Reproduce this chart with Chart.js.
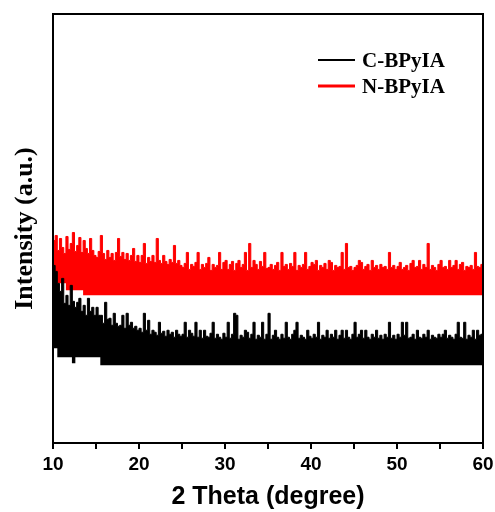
<!DOCTYPE html>
<html>
<head>
<meta charset="utf-8">
<script src="https://cdn.jsdelivr.net/npm/chart.js@4.4.1/dist/chart.umd.min.js"></script>
<style>
  html, body { margin: 0; padding: 0; background: #fff; }
  #xrd { display: block; }
</style>
</head>
<body>
<canvas id="xrd" width="495" height="512"></canvas>
<script>
// 2 theta grid, 0.25 degree steps from 10 to 60
const twoTheta = [];
for (let i = 0; i <= 200; i++) twoTheta.push(10 + i * 0.25);

// upper edge of the noisy C-BPyIA trace (a.u.)
const cUpper = [
  178, 172, 160, 152, 165, 140, 148, 138, 158, 142, 136, 141, 145, 132, 138, 128, 145, 132, 136, 128,
  136, 128, 128, 120, 141, 124, 125, 118, 130, 120, 117, 118, 128, 115, 130, 118, 121, 115, 117, 113,
  115, 111, 130, 113, 123, 109, 113, 111, 108, 121, 110, 112, 107, 113, 109, 111, 106, 113, 109, 107,
  109, 121, 106, 113, 110, 107, 121, 106, 113, 105, 113, 107, 106, 110, 121, 105, 109, 106, 104, 110,
  106, 121, 105, 109, 130, 128, 104, 108, 106, 113, 111, 105, 109, 121, 104, 108, 106, 121, 104, 109,
  130, 104, 108, 113, 106, 104, 109, 105, 121, 106, 104, 109, 113, 121, 105, 108, 106, 104, 113, 107,
  105, 109, 106, 121, 104, 108, 106, 113, 105, 109, 106, 113, 104, 108, 113, 105, 113, 106, 104, 109,
  121, 106, 109, 113, 105, 113, 106, 104, 109, 106, 113, 105, 108, 104, 109, 106, 121, 105, 108, 104,
  109, 106, 121, 108, 121, 105, 106, 109, 104, 113, 106, 105, 109, 106, 113, 104, 108, 106, 105, 109,
  106, 109, 113, 105, 108, 106, 104, 109, 121, 106, 105, 121, 104, 108, 106, 113, 104, 113, 108, 109,
  130
];
// lower edge of the C-BPyIA band
const cLowerX = [10, 10.5, 12.2, 12.6, 15.5, 60];
const cLowerY = [95, 86, 80, 86, 78, 78];

// upper edge of the noisy N-BPyIA trace (a.u.)
const nUpper = [
  203, 208, 193, 205, 196, 190, 207, 194, 200, 211, 192, 198, 206, 191, 203, 195, 190, 205, 193, 188,
  186, 192, 208, 190, 184, 193, 186, 190, 183, 191, 205, 187, 191, 184, 190, 183, 188, 195, 182, 188,
  181, 188, 200, 180, 186, 182, 188, 181, 205, 183, 180, 188, 182, 179, 184, 181, 198, 180, 183, 178,
  176, 180, 191, 174, 179, 177, 181, 191, 174, 179, 176, 180, 186, 173, 179, 176, 178, 191, 174, 181,
  183, 174, 179, 182, 173, 180, 183, 176, 179, 191, 173, 200, 176, 183, 179, 174, 182, 177, 191, 175,
  176, 179, 174, 178, 181, 173, 191, 177, 179, 174, 180, 177, 191, 173, 178, 176, 179, 191, 174, 177,
  181, 179, 183, 173, 178, 176, 180, 174, 183, 181, 173, 178, 176, 177, 191, 174, 200, 176, 177, 173,
  176, 178, 183, 181, 174, 177, 179, 173, 183, 176, 178, 174, 179, 176, 177, 174, 191, 176, 178, 174,
  177, 181, 174, 176, 178, 173, 180, 183, 176, 177, 183, 174, 179, 176, 200, 174, 178, 176, 173, 179,
  183, 176, 177, 174, 183, 176, 178, 183, 174, 179, 181, 173, 177, 176, 178, 174, 191, 177, 176, 179,
  177
];
// lower edge of the N-BPyIA band
const nLowerX = [10, 11.5, 13.5, 60];
const nLowerY = [160, 153, 148, 148];

const xTicks = [10, 20, 30, 40, 50, 60];
const seriesNames = ['C-BPyIA', 'N-BPyIA'];
const seriesColors = ['#000000', '#ff0000'];

const toPoints = (xs, ys) => xs.map((x, i) => ({ x: x, y: ys[i] }));

const bandLine = {
    pointRadius: 0,
    stepped: true,
    tension: 0
};

// box round the plot plus the legend inside it
const frameAndLegend = {
    id: 'frameAndLegend',
    afterDraw(chart) {
        const ctx = chart.ctx;
        const a = chart.chartArea;
        ctx.save();
        ctx.strokeStyle = '#000';
        ctx.lineWidth = 2;
        ctx.strokeRect(a.left, a.top, a.right - a.left, a.bottom - a.top);

        const lineX0 = a.right - 165, lineX1 = a.right - 128, textX = a.right - 121;
        const rowY = [a.top + 46, a.top + 72];
        ctx.font = 'bold 21px "Liberation Serif", "Times New Roman", serif';
        ctx.textBaseline = 'alphabetic';
        ctx.textAlign = 'left';
        seriesNames.forEach((name, i) => {
            ctx.strokeStyle = seriesColors[i];
            ctx.lineWidth = i === 0 ? 2 : 3;
            ctx.beginPath();
            ctx.moveTo(lineX0, rowY[i]);
            ctx.lineTo(lineX1, rowY[i]);
            ctx.stroke();
            ctx.fillStyle = '#000';
            ctx.fillText(name, textX, rowY[i] + 7);
        });
        ctx.restore();
    }
};

const ctx = document.getElementById('xrd').getContext('2d');
const xrdChart = new Chart(ctx, {
    type: 'line',
    data: {
        datasets: [
            Object.assign({
                label: seriesNames[0],
                data: toPoints(twoTheta, cUpper),
                borderColor: seriesColors[0],
                backgroundColor: seriesColors[0],
                borderWidth: 1,
                fill: '+1'
            }, bandLine),
            Object.assign({
                label: 'c-low',
                data: toPoints(cLowerX, cLowerY),
                borderColor: 'rgba(0,0,0,0)',
                borderWidth: 0,
                fill: false
            }, bandLine),
            Object.assign({
                label: seriesNames[1],
                data: toPoints(twoTheta, nUpper),
                borderColor: seriesColors[1],
                backgroundColor: seriesColors[1],
                borderWidth: 1,
                fill: '+1'
            }, bandLine),
            Object.assign({
                label: 'n-low',
                data: toPoints(nLowerX, nLowerY),
                borderColor: 'rgba(0,0,0,0)',
                borderWidth: 0,
                fill: false
            }, bandLine)
        ]
    },
    options: {
        responsive: false,
        animation: false,
        devicePixelRatio: 1,
        layout: { padding: { top: 14, right: 12, left: 0, bottom: 0 } },
        plugins: {
            legend: { display: false },
            tooltip: { enabled: false }
        },
        scales: {
            x: {
                type: 'linear',
                min: 10,
                max: 60,
                afterFit: (scale) => {
                    scale.height = 69;
                    scale.paddingLeft = 0;
                    scale.paddingRight = 0;
                },
                afterBuildTicks: (scale) => {
                    const t = [];
                    for (let v = 10; v <= 60; v += 5) t.push({ value: v });
                    scale.ticks = t;
                },
                ticks: {
                    autoSkip: false,
                    maxRotation: 0,
                    padding: 4,
                    color: '#000',
                    font: { family: '"Liberation Sans", Arial, sans-serif', size: 19, weight: 'bold' },
                    callback: (v) => xTicks.includes(v) ? String(v) : ''
                },
                grid: {
                    drawOnChartArea: false,
                    drawTicks: true,
                    tickLength: 6,
                    color: '#000',
                    lineWidth: 2
                },
                border: { display: true, color: '#000', width: 2 },
                title: {
                    display: true,
                    text: '2 Theta (degree)',
                    color: '#000',
                    padding: { top: 0, bottom: 0 },
                    font: { family: '"Liberation Sans", Arial, sans-serif', size: 25, weight: 'bold', lineHeight: 1.2 }
                }
            },
            y: {
                min: 0,
                max: 430,
                afterFit: (scale) => { scale.width = 53; },
                ticks: { display: false },
                grid: { display: false },
                border: { display: false },
                title: {
                    display: true,
                    text: 'Intensity (a.u.)',
                    color: '#000',
                    padding: { top: 10, bottom: 0 },
                    font: { family: '"Liberation Serif", "Times New Roman", serif', size: 26, weight: 'bold', lineHeight: 1.2 }
                }
            }
        }
    },
    plugins: [frameAndLegend]
});
</script>
</body>
</html>
